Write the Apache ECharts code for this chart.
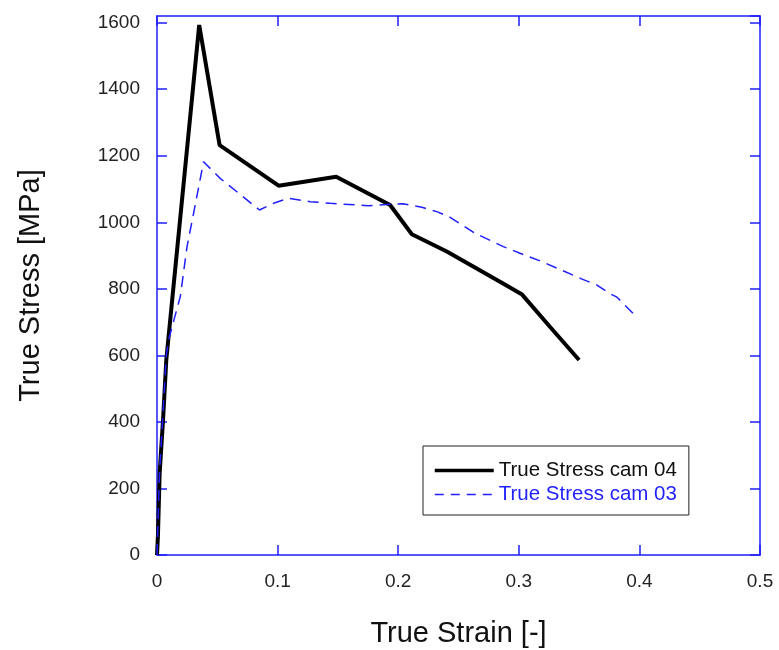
<!DOCTYPE html>
<html style="height: 100%">
<head>
    <meta charset="utf-8">
    <script type="text/javascript" src="https://cdn.jsdelivr.net/npm/echarts@6/dist/echarts.min.js"></script>
</head>
<body style="height: 100%; margin: 0; background: #fff">
<div id="container" style="height: 650px;width: 779px;position: absolute;top: 0;left: 0px;"></div>
<script type="text/javascript">
    // cam 04 (thick black)
    var strain04 = [0, 0.0008, 0.0022, 0.005, 0.0077, 0.035, 0.0519, 0.1008, 0.1486, 0.1933, 0.2113, 0.2403, 0.2844, 0.3024, 0.3258, 0.35];
    var stress04 = [0, 60, 246, 406, 586, 1593, 1232, 1110, 1137, 1052, 964, 912, 821, 784, 686, 586];
    // cam 03 (blue dashed)
    var strain03 = [0, 0.002, 0.0077, 0.0096, 0.014, 0.0193, 0.0249, 0.0305, 0.0386, 0.0524, 0.085, 0.0966, 0.109, 0.127, 0.1436, 0.1753, 0.204, 0.2196, 0.232, 0.243, 0.2637, 0.2872, 0.301, 0.319, 0.352, 0.3645, 0.3756, 0.381, 0.397];
    var stress03 = [0, 240, 600, 646, 706, 776, 927, 1030, 1182, 1132, 1037, 1057, 1072, 1062, 1057, 1050, 1056, 1045, 1032, 1015, 967, 927, 907, 882, 830, 812, 785, 776, 718];
    var names = ['True Stress cam 04', 'True Stress cam 03'];

    function pairs(xs, ys) {
        var out = [];
        for (var i = 0; i < xs.length; i++) out.push([xs[i], ys[i]]);
        return out;
    }

    var font = 'Liberation Sans, Arial, sans-serif';
    var blue = '#1f1fff';
    var frame = {show: true, onZero: false, lineStyle: {color: blue, width: 1.5}};
    var tick = {show: true, inside: true, length: 10, lineStyle: {color: blue, width: 1.5}};

    var myChart = echarts.init(document.getElementById('container'));
    var option = {
        animation: false,
        backgroundColor: '#fff',
        textStyle: {fontFamily: font},
        grid: {left: 157, right: 19, top: 16, bottom: 95, outerBoundsMode: 'none'},
        legend: {
            left: 423,
            top: 446,
            orient: 'vertical',
            padding: [14, 12, 10, 10],
            itemGap: 3,
            itemWidth: 59,
            itemHeight: 14,
            borderColor: '#222',
            borderWidth: 1,
            itemStyle: {opacity: 0},
            textStyle: {fontSize: 20.5, fontFamily: font},
            data: [
                {name: names[0], lineStyle: {color: '#000', width: 3.5}, textStyle: {color: '#111'}},
                {name: names[1], lineStyle: {color: blue, width: 1.5, type: [9, 7]}, textStyle: {color: blue}}
            ]
        },
        xAxis: [{
            type: 'value', min: 0, max: 0.5, interval: 0.1,
            name: 'True Strain [-]', nameLocation: 'middle', nameGap: 64,
            nameTextStyle: {fontSize: 29, color: '#111', fontFamily: font},
            axisLine: frame, axisTick: tick, splitLine: {show: false},
            axisLabel: {fontSize: 19, color: '#222', margin: 17, fontFamily: font}
        }, {
            type: 'value', min: 0, max: 0.5, interval: 0.1, position: 'top',
            axisLine: frame, axisTick: tick, splitLine: {show: false},
            axisLabel: {show: false}
        }],
        yAxis: [{
            type: 'value', min: 0, max: 1620, interval: 200,
            name: 'True Stress [MPa]', nameLocation: 'middle', nameGap: 112,
            nameTextStyle: {fontSize: 29, color: '#111', fontFamily: font},
            axisLine: frame, axisTick: tick, splitLine: {show: false},
            axisLabel: {
                fontSize: 19, color: '#222', margin: 17, showMaxLabel: false, fontFamily: font,
                formatter: function (v) { return String(v); }
            }
        }, {
            type: 'value', min: 0, max: 1620, interval: 200, position: 'right',
            axisLine: frame, axisTick: tick, splitLine: {show: false},
            axisLabel: {show: false}
        }],
        series: [{
            name: names[0],
            type: 'line',
            symbol: 'none',
            color: '#000',
            lineStyle: {color: '#000', width: 4},
            data: pairs(strain04, stress04)
        }, {
            name: names[1],
            type: 'line',
            symbol: 'none',
            color: blue,
            lineStyle: {color: blue, width: 1.5, type: [11, 7]},
            data: pairs(strain03, stress03)
        }]
    };
    myChart.setOption(option, true);
</script>
</body>
</html>
